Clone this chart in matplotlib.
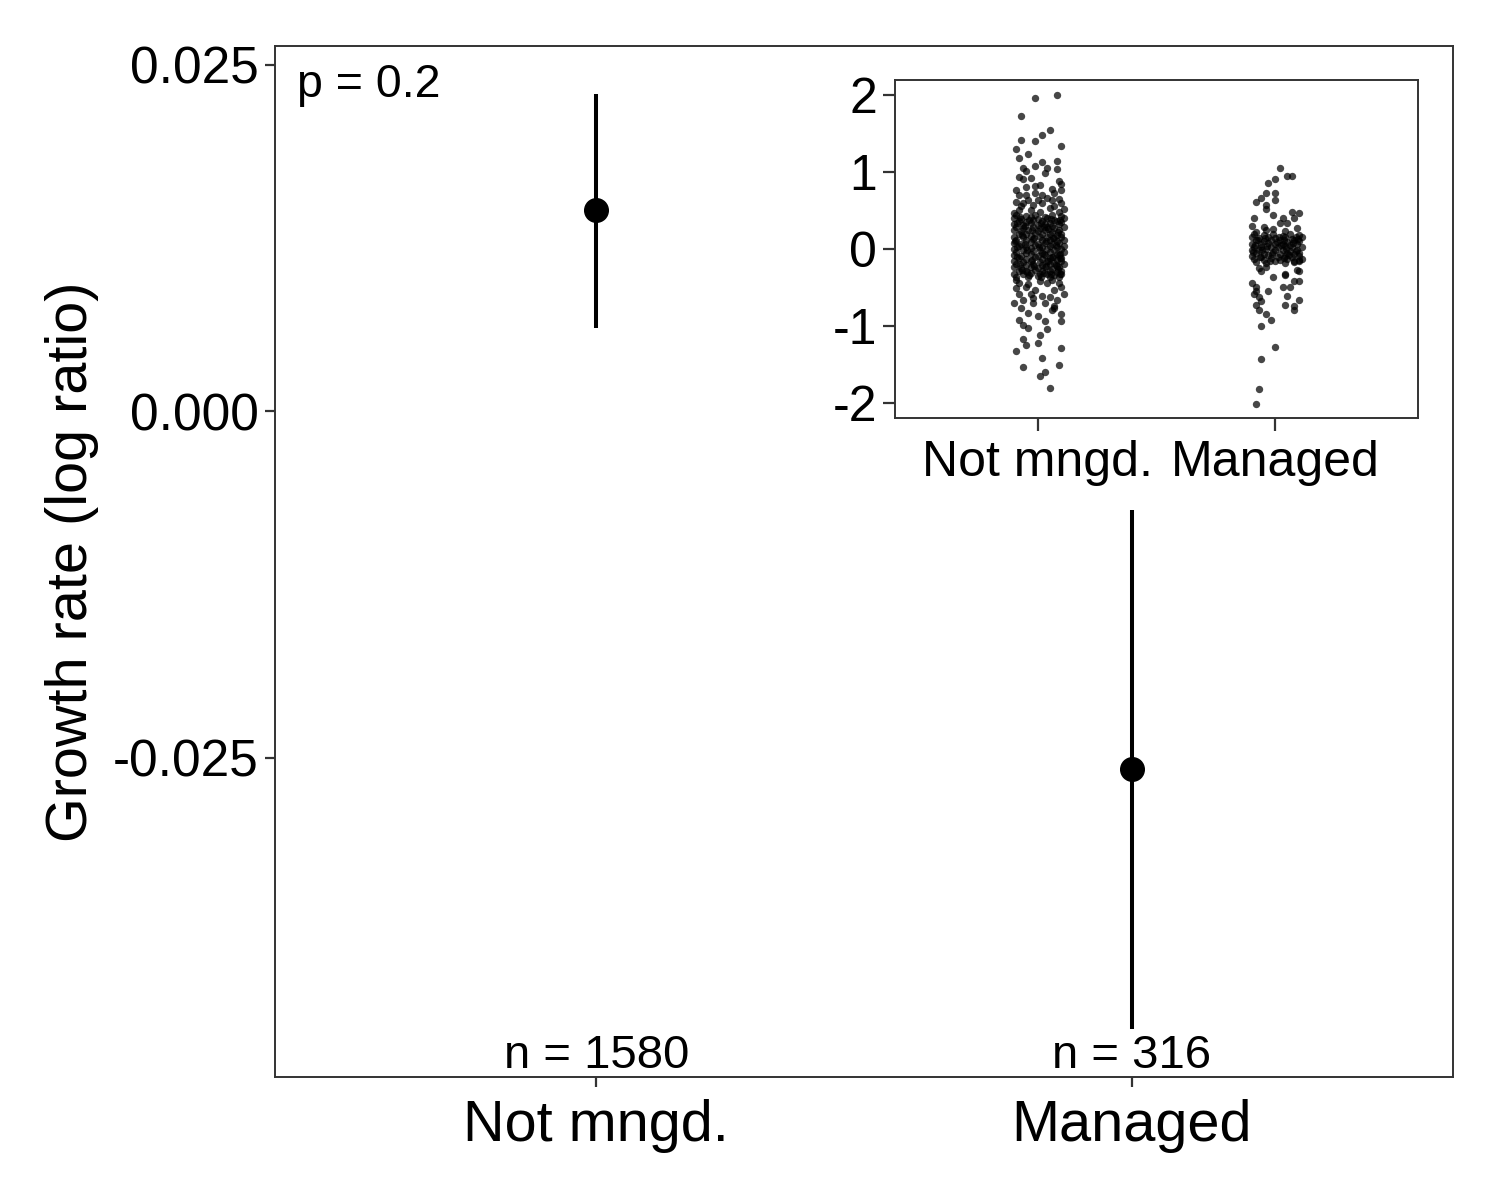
import numpy as np
import matplotlib
matplotlib.use('Agg')
import matplotlib.pyplot as plt
import matplotlib.transforms as mtransforms

plt.rcParams['font.family'] = ['Liberation Sans', 'DejaVu Sans']

# main panel: group means with error bars
groups = ['Not mngd.', 'Managed']
means = [0.0145, -0.0258]
err_low = [0.0060, -0.0446]
err_high = [0.0229, -0.0071]
counts = [1580, 316]
p_text = 'p = 0.2'

# inset: raw growth rates (jitter offset, value)
notm_points = [
    # sparse upper tail
    (-0.01, 1.95), (0.08, 2.00), (-0.07, 1.72), (0.02, 1.48), (0.05, 1.54),
    (-0.07, 1.41), (-0.01, 1.40), (-0.09, 1.29), (0.10, 1.33), (-0.04, 1.23),
    (-0.08, 1.18), (0.02, 1.13), (0.08, 1.14), (-0.01, 1.08), (-0.06, 1.05),
    (0.04, 1.05), (0.08, 1.03), (-0.05, 1.01), (0.03, 0.98), (-0.08, 0.93),
    (-0.06, 0.90), (0.01, 0.83), (0.10, 0.84), (-0.09, 0.76), (-0.05, 0.80),
    (-0.01, 0.81), (0.06, 0.78), (0.09, 0.88), (-0.03, 0.92),
    (-0.08, 0.70), (-0.05, 0.70), (-0.01, 0.72), (0.02, 0.70), (0.07, 0.72),
    (0.10, 0.76), (-0.09, 0.61), (-0.06, 0.59), (-0.02, 0.57), (0.02, 0.59),
    (0.06, 0.63), (0.09, 0.65), (0.10, 0.59), (-0.08, 0.50), (0.01, 0.48),
    (0.09, 0.48), (-0.04, 0.63), (0.04, 0.66), (-0.07, 0.55), (0.05, 0.53),
    (-0.03, 0.50), (0.07, 0.56), (-0.10, 0.47), (0.11, 0.52), (0.00, 0.64),
    # dense core
    (-0.09, 0.44), (-0.05, 0.43), (-0.01, 0.44), (0.03, 0.42), (0.06, 0.44), (0.10, 0.43),
    (-0.10, 0.40), (-0.07, 0.39), (-0.03, 0.41), (0.00, 0.39), (0.04, 0.40), (0.07, 0.38), (0.11, 0.40),
    (-0.08, 0.36), (-0.05, 0.35), (-0.02, 0.37), (0.02, 0.36), (0.05, 0.34), (0.08, 0.36), (0.10, 0.35),
    (-0.10, 0.32), (-0.06, 0.31), (-0.03, 0.33), (0.00, 0.31), (0.03, 0.32), (0.06, 0.30), (0.09, 0.32),
    (-0.09, 0.28), (-0.06, 0.27), (-0.02, 0.28), (0.01, 0.27), (0.04, 0.29), (0.07, 0.27), (0.11, 0.28),
    (-0.10, 0.24), (-0.07, 0.23), (-0.04, 0.25), (0.00, 0.23), (0.03, 0.24), (0.06, 0.22), (0.09, 0.24),
    (-0.08, 0.20), (-0.05, 0.19), (-0.01, 0.21), (0.02, 0.19), (0.05, 0.20), (0.08, 0.18), (0.10, 0.20),
    (-0.10, 0.16), (-0.06, 0.15), (-0.03, 0.17), (0.01, 0.15), (0.04, 0.16), (0.07, 0.14), (0.10, 0.16),
    (-0.09, 0.12), (-0.05, 0.11), (-0.02, 0.13), (0.02, 0.11), (0.05, 0.12), (0.08, 0.10), (0.11, 0.12),
    (-0.10, 0.08), (-0.07, 0.07), (-0.03, 0.09), (0.00, 0.07), (0.03, 0.08), (0.06, 0.06), (0.09, 0.08),
    (-0.08, 0.04), (-0.05, 0.03), (-0.01, 0.05), (0.02, 0.03), (0.05, 0.04), (0.08, 0.02), (0.11, 0.04),
    (-0.10, 0.00), (-0.06, -0.01), (-0.03, 0.01), (0.01, -0.01), (0.04, 0.00), (0.07, -0.02), (0.10, 0.00),
    (-0.09, -0.04), (-0.05, -0.05), (-0.02, -0.03), (0.02, -0.05), (0.05, -0.04), (0.08, -0.06), (0.11, -0.04),
    (-0.10, -0.08), (-0.07, -0.09), (-0.03, -0.07), (0.00, -0.09), (0.03, -0.08), (0.06, -0.10), (0.09, -0.08),
    (-0.08, -0.12), (-0.05, -0.13), (-0.01, -0.11), (0.02, -0.13), (0.05, -0.12), (0.08, -0.14), (0.10, -0.12),
    (-0.10, -0.16), (-0.06, -0.17), (-0.03, -0.15), (0.01, -0.17), (0.04, -0.16), (0.07, -0.18), (0.10, -0.16),
    (-0.09, -0.20), (-0.05, -0.21), (-0.02, -0.19), (0.02, -0.21), (0.05, -0.20), (0.08, -0.22), (0.11, -0.20),
    (-0.10, -0.24), (-0.07, -0.25), (-0.03, -0.23), (0.00, -0.25), (0.03, -0.24), (0.06, -0.26), (0.09, -0.24),
    (-0.08, -0.28), (-0.05, -0.29), (-0.01, -0.27), (0.02, -0.29), (0.05, -0.28), (0.08, -0.30), (0.10, -0.28),
    (-0.10, -0.32), (-0.06, -0.33), (-0.03, -0.31), (0.01, -0.33), (0.04, -0.32), (0.07, -0.34), (0.10, -0.32),
    (-0.09, -0.36), (-0.04, -0.37), (0.00, -0.35), (0.05, -0.37), (0.09, -0.36),
    (-0.075, 0.42), (-0.035, 0.38), (0.015, 0.34), (0.045, 0.26), (0.085, 0.22),
    (-0.065, 0.18), (-0.015, 0.14), (0.035, 0.10), (0.075, 0.05), (-0.085, 0.02),
    (-0.045, -0.02), (0.025, -0.06), (0.065, -0.11), (-0.025, -0.14), (-0.075, -0.19),
    (0.035, -0.22), (0.085, -0.26), (-0.045, -0.30), (0.015, -0.36), (0.095, -0.12),
    (-0.055, 0.30), (0.025, 0.29), (0.095, 0.37), (-0.085, 0.34), (0.055, 0.39),
    (-0.025, 0.24), (0.065, 0.14), (-0.095, 0.10), (0.005, 0.02), (-0.055, 0.06),
    (0.095, -0.07), (-0.085, -0.10), (0.045, -0.15), (-0.015, -0.22), (0.075, -0.21),
    (-0.065, -0.27), (0.025, -0.31), (0.095, -0.33), (-0.035, -0.34), (0.055, -0.33),
    # lower tail
    (-0.09, -0.40), (-0.04, -0.46), (-0.01, -0.53), (0.04, -0.44), (0.07, -0.53),
    (0.10, -0.49), (-0.08, -0.59), (-0.02, -0.64), (0.03, -0.70), (0.07, -0.74),
    (-0.08, -0.92), (-0.06, -0.98), (-0.04, -1.02), (0.03, -0.94), (0.10, -0.94),
    (0.04, -1.04), (0.01, -1.11), (-0.06, -1.17), (-0.05, -1.25), (0.00, -1.22),
    (-0.09, -1.32), (0.10, -1.29), (0.02, -1.41), (-0.06, -1.53), (0.09, -1.50),
    (0.01, -1.65), (0.03, -1.60), (0.05, -1.80),
    (-0.08, -0.44), (-0.05, -0.49), (-0.06, -0.66), (-0.02, -0.70), (0.02, -0.61),
    (0.09, -0.44), (0.06, -0.79), (0.07, -0.77), (-0.04, -0.83), (0.00, -0.87),
    (-0.09, -0.50), (0.06, -0.40), (0.01, -0.42), (-0.03, -0.58), (0.05, -0.62),
    (0.11, -0.58), (-0.10, -0.70), (0.08, -0.66), (-0.07, -0.76), (0.10, -0.84),
]

mng_points = [
    # upper tail
    (0.02, 1.05), (0.05, 0.94), (0.07, 0.94), (0.00, 0.90), (-0.03, 0.85),
    (-0.04, 0.73), (0.00, 0.72), (-0.06, 0.66), (-0.08, 0.61), (0.00, 0.63),
    (-0.04, 0.52), (-0.04, 0.57), (-0.09, 0.40), (-0.01, 0.44), (0.02, 0.34),
    (0.05, 0.34), (0.07, 0.48), (0.10, 0.46), (0.08, 0.40), (0.03, 0.40),
    (-0.05, 0.29), (-0.04, 0.25), (-0.08, 0.22), (0.09, 0.27), (-0.01, 0.26),
    (0.04, 0.23), (-0.10, 0.30),
    # dense core
    (-0.09, 0.19), (-0.05, 0.18), (-0.01, 0.19), (0.03, 0.17), (0.06, 0.19), (0.10, 0.18),
    (-0.10, 0.15), (-0.07, 0.14), (-0.03, 0.16), (0.00, 0.14), (0.04, 0.15), (0.07, 0.13), (0.11, 0.15),
    (-0.08, 0.11), (-0.05, 0.10), (-0.02, 0.12), (0.02, 0.11), (0.05, 0.09), (0.08, 0.11), (0.10, 0.10),
    (-0.10, 0.07), (-0.06, 0.06), (-0.03, 0.08), (0.00, 0.06), (0.03, 0.07), (0.06, 0.05), (0.09, 0.07),
    (-0.09, 0.03), (-0.06, 0.02), (-0.02, 0.03), (0.01, 0.02), (0.04, 0.04), (0.07, 0.02), (0.11, 0.03),
    (-0.10, -0.01), (-0.07, -0.02), (-0.04, 0.00), (0.00, -0.02), (0.03, -0.01), (0.06, -0.03), (0.09, -0.01),
    (-0.08, -0.05), (-0.05, -0.06), (-0.01, -0.04), (0.02, -0.06), (0.05, -0.05), (0.08, -0.07), (0.10, -0.05),
    (-0.10, -0.09), (-0.06, -0.10), (-0.03, -0.08), (0.01, -0.10), (0.04, -0.09), (0.07, -0.11), (0.10, -0.09),
    (-0.09, -0.13), (-0.05, -0.14), (-0.02, -0.12), (0.02, -0.14), (0.05, -0.13), (0.08, -0.15), (0.11, -0.13),
    (-0.08, -0.17), (-0.04, -0.18), (0.00, -0.16), (0.04, -0.18), (0.08, -0.17),
    (-0.075, 0.12), (-0.035, 0.04), (0.015, 0.16), (0.045, 0.00), (0.085, -0.03),
    (-0.065, -0.11), (-0.015, -0.07), (0.035, 0.12), (0.075, 0.08), (-0.085, 0.05),
    (0.095, 0.13), (-0.045, 0.14), (0.025, 0.05), (-0.095, -0.04), (0.055, -0.08),
    (-0.025, -0.15), (0.085, 0.16), (0.005, 0.09), (-0.055, -0.01), (0.035, -0.12),
    # lower tail
    (0.10, -0.14), (0.09, -0.27), (-0.07, -0.25), (-0.04, -0.23), (0.04, -0.34),
    (-0.10, -0.44), (-0.08, -0.49), (0.08, -0.41), (0.03, -0.49), (-0.03, -0.54),
    (-0.09, -0.59), (-0.07, -0.62), (-0.06, -0.68), (-0.08, -0.72), (-0.07, -0.79),
    (0.05, -0.61), (0.10, -0.66), (0.08, -0.74), (0.08, -0.79), (0.04, -0.73),
    (-0.04, -0.84), (-0.02, -0.92), (-0.06, -1.00), (0.00, -1.27), (-0.06, -1.43),
    (-0.07, -1.81), (-0.08, -2.01),
    (-0.08, -0.55), (0.06, -0.49), (0.10, -0.42), (0.10, -0.28), (0.10, -0.15),
    (0.04, -0.32), (-0.06, -0.29), (-0.01, -0.36),
]


def style_axes(ax, labelsize, length):
    for side in ax.spines.values():
        side.set_color('#333333')
        side.set_linewidth(1.4)
    ax.tick_params(axis='both', colors='#333333', width=1.6, length=length,
                   labelsize=labelsize, labelcolor='black', pad=4)


def draw_main(fig):
    ax = fig.add_axes([0.1833, 0.1025, 0.7853, 0.8592])
    x = np.arange(1, len(groups) + 1)
    ax.vlines(x, err_low, err_high, color='black', linewidth=2.9)
    ax.plot(x, means, 'o', color='black', markersize=17)
    ax.set_xlim(0.4, 2.6)
    ax.set_ylim(-0.04805, 0.02637)
    ax.set_xticks(x)
    ax.set_xticklabels(groups)
    ax.set_yticks([0.025, 0.0, -0.025])
    ax.set_yticklabels(['0.025', '0.000', '-0.025'])
    ax.set_ylabel('Growth rate (log ratio)', fontsize=41.5, labelpad=10)
    style_axes(ax, 37, 7.5)
    ax.tick_params(axis='x', labelsize=41.5, pad=8)

    trans = mtransforms.blended_transform_factory(ax.transData, ax.transAxes)
    for xi, n in zip(x, counts):
        ax.text(xi, 0.009, 'n = %d' % n, transform=trans, ha='center',
                va='baseline', fontsize=34)
    ax.text(0.0187, 0.9505, p_text, transform=ax.transAxes, ha='left',
            va='baseline', fontsize=33.5)


def draw_inset(fig):
    ax = fig.add_axes([0.5967, 0.6517, 0.3487, 0.2817])
    ax.set_facecolor('white')
    for i, pts in enumerate([notm_points, mng_points]):
        arr = np.array(pts)
        ax.scatter(i + 1 + arr[:, 0], arr[:, 1], s=28, color='black',
                   alpha=0.72, linewidths=0, zorder=3)
    ax.set_xlim(0.4, 2.6)
    ax.set_ylim(-2.19, 2.19)
    ax.set_xticks([1, 2])
    ax.set_xticklabels(groups)
    ax.set_yticks([2, 1, 0, -1, -2])
    ax.set_yticklabels(['2', '1', '0', '-1', '-2'])
    style_axes(ax, 36, 9)
    ax.tick_params(axis='x', pad=7)


def main():
    fig = plt.figure(figsize=(15, 12), dpi=100)
    draw_main(fig)
    draw_inset(fig)
    fig.savefig('out.png', dpi=100, facecolor='white')


if __name__ == '__main__':
    main()
